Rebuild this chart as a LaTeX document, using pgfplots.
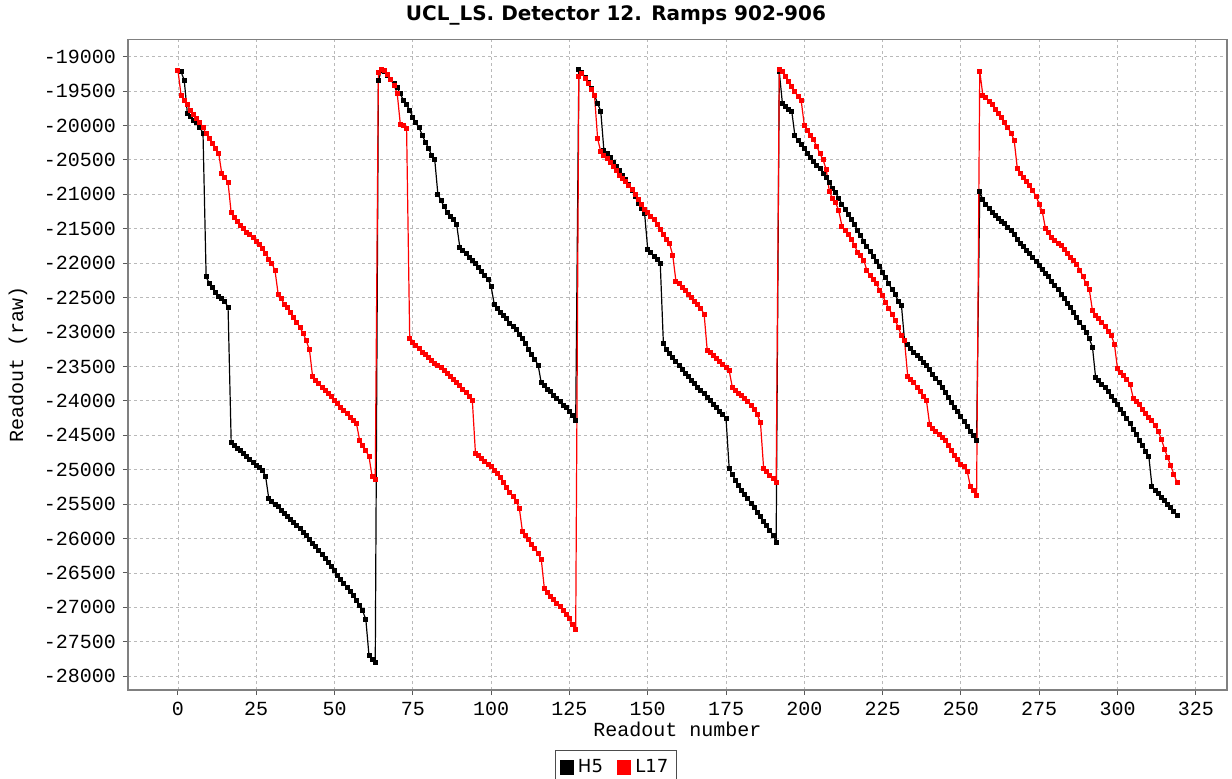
\documentclass[border=0pt]{standalone}
\usepackage{fontspec}
\setmainfont{DejaVu Sans}
\newfontfamily\monofont{Liberation Mono}
\usepackage{pgfplots}
\pgfplotsset{compat=1.18}
\newcommand\tickfont{\monofont\fontsize{10}{12}\selectfont}
\begin{document}
\begin{tikzpicture}
\useasboundingbox (-64pt,-44pt) rectangle (552pt,345pt);
\begin{axis}[
  at={(0,0)}, anchor=south west,
  scale only axis, width=549.5pt, height=325.25pt,
  xmin=-15.95, xmax=334.95, ymin=-28200, ymax=-18750,
  xtick={0,25,...,325}, ytick={-28000,-27500,...,-19000},
  scaled ticks=false,
  /pgf/number format/1000 sep={},
  /pgf/number format/assume math mode=true,
  tick label style={font=\tickfont},
  tick pos=left, tick align=outside, major tick length=2.5pt,
  tick style={gray!70!black, line width=0.5pt},
  axis line style={gray, line width=0.6pt},
  grid=major,
  major grid style={dash pattern=on 1.5pt off 1.5pt, gray!55, line width=0.45pt},
  every axis title shift=0pt,
  title={UCL\_LS. Detector 12. Ramps 902-906},
  title style={font=\fontsize{10}{12}\selectfont\bfseries, at={(axis description cs:0.444,1.0377)}, anchor=center},
  xlabel={Readout number}, ylabel={Readout (raw)},
  label style={font=\tickfont},
  xlabel style={at={(axis description cs:0.5,-0.06)}, anchor=center},
  ylabel style={at={(axis description cs:-0.1001,0.5)}, anchor=center},
  legend style={at={(axis description cs:0.444,-0.119)}, anchor=center, legend columns=-1,
    draw=gray!60!black, line width=0.5pt, font=\fontsize{9}{10}\selectfont, inner sep=2.2pt,
    /tikz/every even column/.append style={column sep=5pt}},
]
\addplot[black, line width=0.6pt, mark=square*, mark size=0.95pt,
  legend image code/.code={\fill[black] (0pt,-3.3pt) rectangle (6.6pt,3.3pt);}] coordinates {
(0,-19200) (1,-19220) (2,-19340) (3,-19820) (4,-19870) (5,-19920) (6,-19960) (7,-20030)
(8,-20110) (9,-22200) (10,-22290) (11,-22360) (12,-22420) (13,-22480) (14,-22520) (15,-22560)
(16,-22640) (17,-24600) (18,-24650) (19,-24690) (20,-24720) (21,-24770) (22,-24810) (23,-24850)
(24,-24890) (25,-24940) (26,-24970) (27,-25010) (28,-25100) (29,-25420) (30,-25460) (31,-25500)
(32,-25540) (33,-25590) (34,-25630) (35,-25680) (36,-25720) (37,-25770) (38,-25810) (39,-25860)
(40,-25910) (41,-25960) (42,-26010) (43,-26070) (44,-26120) (45,-26180) (46,-26230) (47,-26290)
(48,-26350) (49,-26410) (50,-26470) (51,-26530) (52,-26590) (53,-26650) (54,-26710) (55,-26770)
(56,-26830) (57,-26900) (58,-26970) (59,-27050) (60,-27180) (61,-27700) (62,-27750) (63,-27800)
(64,-19340) (65,-19200) (66,-19210) (67,-19270) (68,-19330) (69,-19390) (70,-19450) (71,-19540)
(72,-19630) (73,-19700) (74,-19780) (75,-19880) (76,-19960) (77,-20030) (78,-20140) (79,-20240)
(80,-20330) (81,-20430) (82,-20500) (83,-21000) (84,-21090) (85,-21180) (86,-21260) (87,-21320)
(88,-21370) (89,-21440) (90,-21770) (91,-21810) (92,-21860) (93,-21910) (94,-21960) (95,-22010)
(96,-22060) (97,-22120) (98,-22180) (99,-22230) (100,-22340) (101,-22600) (102,-22660) (103,-22710)
(104,-22760) (105,-22810) (106,-22870) (107,-22920) (108,-22970) (109,-23040) (110,-23100) (111,-23170)
(112,-23250) (113,-23320) (114,-23400) (115,-23480) (116,-23740) (117,-23780) (118,-23830) (119,-23870)
(120,-23920) (121,-23960) (122,-24010) (123,-24060) (124,-24100) (125,-24150) (126,-24210) (127,-24280)
(128,-19180) (129,-19230) (130,-19300) (131,-19380) (132,-19460) (133,-19560) (134,-19680) (135,-19790)
(136,-20360) (137,-20410) (138,-20470) (139,-20530) (140,-20590) (141,-20660) (142,-20720) (143,-20790)
(144,-20850) (145,-20940) (146,-21030) (147,-21130) (148,-21210) (149,-21280) (150,-21800) (151,-21850)
(152,-21900) (153,-21950) (154,-22010) (155,-23170) (156,-23250) (157,-23310) (158,-23370) (159,-23430)
(160,-23490) (161,-23550) (162,-23600) (163,-23650) (164,-23700) (165,-23750) (166,-23800) (167,-23850)
(168,-23900) (169,-23950) (170,-24000) (171,-24050) (172,-24100) (173,-24150) (174,-24200) (175,-24260)
(176,-24980) (177,-25070) (178,-25150) (179,-25230) (180,-25300) (181,-25360) (182,-25420) (183,-25490)
(184,-25550) (185,-25620) (186,-25680) (187,-25750) (188,-25810) (189,-25880) (190,-25950) (191,-26050)
(192,-19220) (193,-19680) (194,-19730) (195,-19760) (196,-19800) (197,-20150) (198,-20220) (199,-20280)
(200,-20340) (201,-20400) (202,-20460) (203,-20520) (204,-20580) (205,-20630) (206,-20690) (207,-20760)
(208,-20830) (209,-20910) (210,-20980) (211,-21060) (212,-21140) (213,-21220) (214,-21290) (215,-21360)
(216,-21440) (217,-21520) (218,-21600) (219,-21680) (220,-21760) (221,-21830) (222,-21900) (223,-21970)
(224,-22050) (225,-22130) (226,-22210) (227,-22300) (228,-22380) (229,-22460) (230,-22550) (231,-22610)
(232,-23130) (233,-23180) (234,-23240) (235,-23290) (236,-23340) (237,-23390) (238,-23440) (239,-23490)
(240,-23550) (241,-23610) (242,-23670) (243,-23740) (244,-23810) (245,-23880) (246,-23950) (247,-24020)
(248,-24090) (249,-24160) (250,-24230) (251,-24300) (252,-24370) (253,-24440) (254,-24510) (255,-24570)
(256,-20960) (257,-21080) (258,-21140) (259,-21200) (260,-21260) (261,-21310) (262,-21350) (263,-21390)
(264,-21430) (265,-21480) (266,-21530) (267,-21590) (268,-21650) (269,-21710) (270,-21760) (271,-21810)
(272,-21860) (273,-21920) (274,-21970) (275,-22030) (276,-22090) (277,-22150) (278,-22200) (279,-22260)
(280,-22320) (281,-22380) (282,-22450) (283,-22510) (284,-22580) (285,-22650) (286,-22720) (287,-22790)
(288,-22860) (289,-22930) (290,-23000) (291,-23100) (292,-23220) (293,-23660) (294,-23710) (295,-23760)
(296,-23810) (297,-23870) (298,-23930) (299,-23990) (300,-24050) (301,-24120) (302,-24190) (303,-24260)
(304,-24330) (305,-24410) (306,-24490) (307,-24570) (308,-24650) (309,-24730) (310,-24810) (311,-25240)
(312,-25300) (313,-25350) (314,-25400) (315,-25450) (316,-25500) (317,-25550) (318,-25610) (319,-25670)
};
\addlegendentry{H5}
\addplot[red, line width=0.6pt, mark=square*, mark size=0.95pt,
  legend image code/.code={\fill[red] (0pt,-3.3pt) rectangle (6.6pt,3.3pt);}] coordinates {
(0,-19200) (1,-19560) (2,-19630) (3,-19700) (4,-19780) (5,-19840) (6,-19900) (7,-19950)
(8,-20030) (9,-20120) (10,-20190) (11,-20260) (12,-20330) (13,-20400) (14,-20700) (15,-20750)
(16,-20830) (17,-21270) (18,-21340) (19,-21400) (20,-21450) (21,-21500) (22,-21550) (23,-21590)
(24,-21630) (25,-21680) (26,-21730) (27,-21790) (28,-21860) (29,-21940) (30,-22000) (31,-22110)
(32,-22450) (33,-22520) (34,-22600) (35,-22650) (36,-22710) (37,-22790) (38,-22860) (39,-22940)
(40,-23020) (41,-23130) (42,-23260) (43,-23650) (44,-23705) (45,-23750) (46,-23800) (47,-23850)
(48,-23890) (49,-23940) (50,-23990) (51,-24035) (52,-24090) (53,-24140) (54,-24190) (55,-24240)
(56,-24280) (57,-24330) (58,-24570) (59,-24645) (60,-24720) (61,-24810) (62,-25100) (63,-25140)
(64,-19230) (65,-19180) (66,-19200) (67,-19260) (68,-19330) (69,-19420) (70,-19530) (71,-19980)
(72,-20000) (73,-20040) (74,-23100) (75,-23150) (76,-23200) (77,-23240) (78,-23290) (79,-23330)
(80,-23370) (81,-23410) (82,-23450) (83,-23490) (84,-23520) (85,-23560) (86,-23600) (87,-23640)
(88,-23690) (89,-23730) (90,-23780) (91,-23830) (92,-23880) (93,-23940) (94,-24000) (95,-24770)
(96,-24800) (97,-24840) (98,-24880) (99,-24920) (100,-24960) (101,-25010) (102,-25060) (103,-25120)
(104,-25190) (105,-25260) (106,-25330) (107,-25390) (108,-25460) (109,-25560) (110,-25900) (111,-25950)
(112,-26010) (113,-26080) (114,-26150) (115,-26220) (116,-26300) (117,-26730) (118,-26790) (119,-26840)
(120,-26890) (121,-26940) (122,-26990) (123,-27050) (124,-27100) (125,-27160) (126,-27250) (127,-27320)
(128,-19290) (129,-19240) (130,-19310) (131,-19390) (132,-19470) (133,-19560) (134,-20190) (135,-20380)
(136,-20430) (137,-20480) (138,-20540) (139,-20600) (140,-20660) (141,-20720) (142,-20770) (143,-20820)
(144,-20870) (145,-20930) (146,-21000) (147,-21080) (148,-21150) (149,-21220) (150,-21270) (151,-21320)
(152,-21370) (153,-21440) (154,-21510) (155,-21590) (156,-21660) (157,-21720) (158,-21890) (159,-22260)
(160,-22300) (161,-22350) (162,-22400) (163,-22450) (164,-22500) (165,-22550) (166,-22600) (167,-22660)
(168,-22740) (169,-23270) (170,-23300) (171,-23340) (172,-23390) (173,-23430) (174,-23470) (175,-23520)
(176,-23560) (177,-23800) (178,-23850) (179,-23890) (180,-23920) (181,-23960) (182,-24010) (183,-24060)
(184,-24120) (185,-24200) (186,-24320) (187,-24980) (188,-25030) (189,-25080) (190,-25130) (191,-25190)
(192,-19190) (193,-19220) (194,-19290) (195,-19360) (196,-19430) (197,-19510) (198,-19580) (199,-19640)
(200,-20000) (201,-20070) (202,-20140) (203,-20210) (204,-20310) (205,-20410) (206,-20500) (207,-20640)
(208,-20960) (209,-21060) (210,-21120) (211,-21240) (212,-21460) (213,-21530) (214,-21580) (215,-21650)
(216,-21740) (217,-21840) (218,-21890) (219,-21960) (220,-22110) (221,-22180) (222,-22230) (223,-22300)
(224,-22390) (225,-22470) (226,-22570) (227,-22660) (228,-22740) (229,-22830) (230,-22930) (231,-23050)
(232,-23130) (233,-23640) (234,-23690) (235,-23740) (236,-23800) (237,-23870) (238,-23940) (239,-24000)
(240,-24340) (241,-24400) (242,-24440) (243,-24490) (244,-24530) (245,-24580) (246,-24650) (247,-24720)
(248,-24800) (249,-24850) (250,-24920) (251,-24960) (252,-25020) (253,-25240) (254,-25300) (255,-25370)
(256,-19210) (257,-19560) (258,-19600) (259,-19650) (260,-19700) (261,-19760) (262,-19820) (263,-19890)
(264,-19960) (265,-20030) (266,-20110) (267,-20215) (268,-20625) (269,-20690) (270,-20750) (271,-20810)
(272,-20870) (273,-20950) (274,-21030) (275,-21140) (276,-21255) (277,-21500) (278,-21560) (279,-21620)
(280,-21670) (281,-21710) (282,-21750) (283,-21800) (284,-21860) (285,-21910) (286,-21960) (287,-22020)
(288,-22100) (289,-22200) (290,-22300) (291,-22385) (292,-22690) (293,-22760) (294,-22810) (295,-22860)
(296,-22920) (297,-22990) (298,-23050) (299,-23175) (300,-23535) (301,-23585) (302,-23635) (303,-23695)
(304,-23755) (305,-23960) (306,-24010) (307,-24055) (308,-24120) (309,-24180) (310,-24240) (311,-24290)
(312,-24360) (313,-24445) (314,-24555) (315,-24700) (316,-24820) (317,-24945) (318,-25065) (319,-25185)
};
\addlegendentry{L17}
\end{axis}
\end{tikzpicture}
\end{document}
